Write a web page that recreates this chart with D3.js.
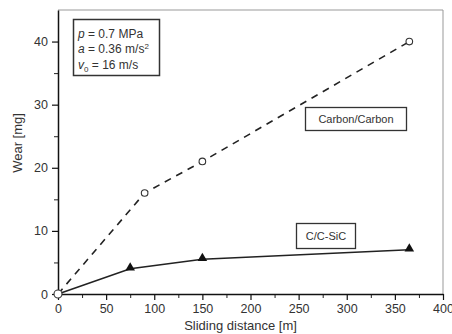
<!DOCTYPE html>
<html lang="en">
<head>
<meta charset="UTF-8">
<title>Wear vs sliding distance</title>
<style>
  body { margin: 0; background: #fff; }
  svg text { font-family: "Liberation Sans", Arial, sans-serif; fill: #333; }
</style>
</head>
<body>
<div id="chart"></div>
<script src="https://d3js.org/d3.v7.min.js"></script>
<script>
// data
var ccDist = [0, 90, 150, 365];
var ccWear = [0, 16, 21, 40];
var sicDist = [0, 75, 150, 365];
var sicWear = [0, 4, 5.5, 7];
var xTicks = [0, 50, 100, 150, 200, 250, 300, 350, 400];
var yTicks = [0, 10, 20, 30, 40];
var paramLines = ["p = 0.7 MPa", "a = 0.36 m/s2", "v0 = 16 m/s"];

var margin = { top: 10, right: 9, bottom: 40, left: 58 },
    W = 452, H = 334,
    width = W - margin.left - margin.right,
    height = H - margin.top - margin.bottom;

var svg = d3.select("#chart").append("svg")
    .attr("width", W).attr("height", H);

var g = svg.append("g")
    .attr("transform", "translate(" + margin.left + "," + margin.top + ")");

var x = d3.scaleLinear().domain([0, 400]).range([0, width]);
var y = d3.scaleLinear().domain([0, 45]).range([height, 0]);

// frame top/right
g.append("path")
    .attr("d", "M0,0H" + width + "V" + height)
    .attr("fill", "none").attr("stroke", "#999").attr("stroke-width", 1);

// minor ticks
g.append("g").attr("transform", "translate(0," + height + ")")
    .call(d3.axisBottom(x).tickValues(d3.range(25, 400, 50)).tickSize(4).tickFormat(""))
    .call(function (s) { s.select(".domain").remove(); s.selectAll("line").attr("stroke", "#222"); });
g.append("g")
    .call(d3.axisLeft(y).tickValues([5, 15, 25, 35]).tickSize(4).tickFormat(""))
    .call(function (s) { s.select(".domain").remove(); s.selectAll("line").attr("stroke", "#222"); });

// main axes
var xAxis = g.append("g").attr("transform", "translate(0," + height + ")")
    .call(d3.axisBottom(x).tickValues(xTicks).tickSize(6).tickSizeOuter(0).tickPadding(4));
var yAxis = g.append("g")
    .call(d3.axisLeft(y).tickValues(yTicks).tickSize(6).tickSizeOuter(0).tickPadding(4));
[xAxis, yAxis].forEach(function (a) {
    a.select(".domain").attr("stroke", "#111").attr("stroke-width", 1.5);
    a.selectAll("line").attr("stroke", "#111").attr("stroke-width", 1.2);
    a.selectAll("text").style("font-size", "12.5px").attr("fill", "#333");
});

// axis titles
svg.append("text")
    .attr("x", margin.left + x(200) - 10).attr("y", 330)
    .attr("text-anchor", "middle").style("font-size", "13px")
    .text("Sliding distance [m]");
svg.append("text")
    .attr("transform", "translate(22,143) rotate(-90)")
    .attr("text-anchor", "middle").style("font-size", "13px")
    .text("Wear [mg]");

var line = d3.line().x(function (d) { return x(d[0]); }).y(function (d) { return y(d[1]); });
var ccPts = d3.zip(ccDist, ccWear);
var sicPts = d3.zip(sicDist, sicWear);

g.append("path").datum(ccPts).attr("d", line)
    .attr("fill", "none").attr("stroke", "#222").attr("stroke-width", 1.6)
    .attr("stroke-dasharray", "7,6");
g.append("path").datum(sicPts).attr("d", line)
    .attr("fill", "none").attr("stroke", "#222").attr("stroke-width", 1.6);

// triangles
g.selectAll(".tri").data(sicPts.slice(1)).enter().append("path")
    .attr("d", d3.symbol().type(d3.symbolTriangle).size(40))
    .attr("transform", function (d) { return "translate(" + x(d[0]) + "," + (y(d[1]) - 1) + ")"; })
    .attr("fill", "#111");

// open circles
g.selectAll(".circ").data(ccPts.slice(1)).enter().append("circle")
    .attr("cx", function (d) { return x(d[0]); })
    .attr("cy", function (d) { return y(d[1]); })
    .attr("r", 3.3).attr("fill", "#fff").attr("stroke", "#333").attr("stroke-width", 1.1);
g.append("circle").attr("cx", x(0)).attr("cy", y(0)).attr("r", 4)
    .attr("fill", "#fff").attr("stroke", "#333").attr("stroke-width", 1.1);

// parameter box
svg.append("rect").attr("x", 73.5).attr("y", 19.5).attr("width", 86).attr("height", 56)
    .attr("fill", "#fff").attr("stroke", "#333").attr("stroke-width", 1.5);
var pt = svg.append("g").style("font-size", "12px");
var t1 = pt.append("text").attr("x", 78).attr("y", 38);
t1.append("tspan").style("font-style", "italic").text("p");
t1.append("tspan").text(" = 0.7 MPa");
var t2 = pt.append("text").attr("x", 78).attr("y", 53);
t2.append("tspan").style("font-style", "italic").text("a");
t2.append("tspan").text(" = 0.36 m/s");
t2.append("tspan").attr("dy", -4).style("font-size", "8px").text("2");
var t3 = pt.append("text").attr("x", 78).attr("y", 69);
t3.append("tspan").style("font-style", "italic").text("v");
t3.append("tspan").attr("dy", 3).style("font-size", "8px").text("0");
t3.append("tspan").attr("dy", -3).text(" = 16 m/s");

// series labels
function labelBox(x0, y0, w, h, txt) {
    svg.append("rect").attr("x", x0).attr("y", y0).attr("width", w).attr("height", h)
        .attr("fill", "#fff").attr("stroke", "#333").attr("stroke-width", 1.3);
    svg.append("text").attr("x", x0 + w / 2).attr("y", y0 + h / 2 + 4)
        .attr("text-anchor", "middle").style("font-size", "11px").text(txt);
}
labelBox(305.5, 107.5, 101, 23, "Carbon/Carbon");
labelBox(296.5, 223.5, 59, 25, "C/C-SiC");
</script>
</body>
</html>
